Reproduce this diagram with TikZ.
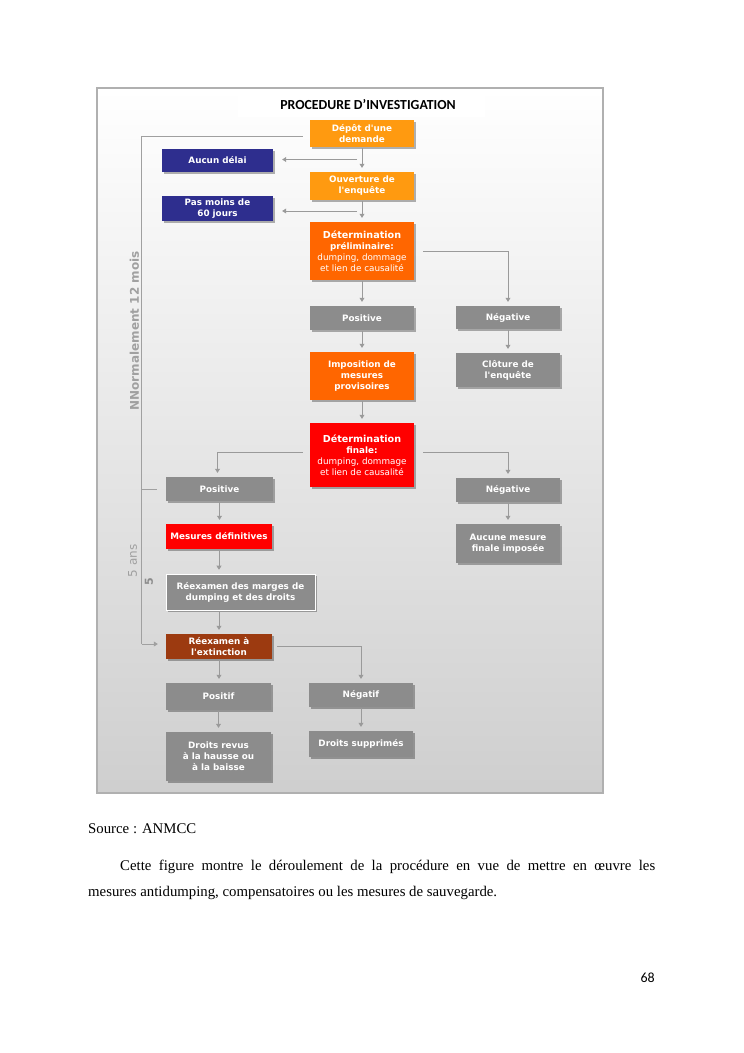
\documentclass[tikz,border=0pt]{standalone}
\usepackage{fontspec}
\setmainfont{Liberation Serif}
\newfontfamily\vfont{DejaVu Sans}
\newfontfamily\cfont{Carlito}
\usetikzlibrary{arrows.meta,shadows,calc}
\definecolor{lorange}{HTML}{FF9A10}
\definecolor{dorange}{HTML}{FF6600}
\definecolor{bred}{HTML}{FF0000}
\definecolor{navy}{HTML}{2E2E8E}
\definecolor{bgray}{HTML}{8C8C8C}
\definecolor{brownb}{HTML}{9C3A10}
\definecolor{cgray}{HTML}{9A9A9A}
\definecolor{lgray}{HTML}{A0A0A0}
\definecolor{framegray}{HTML}{B0B0B0}
\newcommand{\bxfont}{\vfont\bfseries\fontsize{8.8}{11}\selectfont}
\tikzset{
  bx/.style={rectangle, inner sep=1pt, align=center, text=white, font=\bxfont,
    drop shadow={shadow xshift=1.8pt, shadow yshift=-1.8pt, fill=black, opacity=0.3}},
  conn/.style={draw=cgray, line width=0.7pt},
  arr/.style={conn, -{Triangle[length=4pt,width=5pt]}, shorten >=4pt, shorten <=1pt},
  bline/.style={draw=lgray, line width=0.8pt},
  lbl/.style={text=lgray, inner sep=0pt},
  bodytext/.style={anchor=base west, inner sep=0pt, font=\fontsize{14.8}{17}\selectfont},
}
\begin{document}
\begin{tikzpicture}[x=1pt,y=-1pt]
\useasboundingbox (0,0) rectangle (744,1053);
\fill[white] (0,0) rectangle (744,1053);
% frame with gradient
\shade[top color=white, bottom color=gray!38] (97,88) rectangle (603,793);
\draw[draw=framegray, line width=1.2pt] (97,88) rectangle (603,793);
\fill[white] (238,92) rectangle (485,117);
\node[font=\cfont\bfseries\fontsize{13.8}{16}\selectfont, inner sep=0pt] (title) at (368,104.5) {PROCEDURE D’INVESTIGATION};

% boxes
\node[bx, fill=lorange, minimum width=104, minimum height=27] (depot) at (362,133.5) {Dépôt d'une\\demande};
\node[bx, fill=navy, minimum width=111, minimum height=23] (aucun) at (217.5,160.5) {Aucun délai};
\node[bx, fill=lorange, minimum width=104, minimum height=28] (ouverture) at (362,186) {Ouverture de\\l'enquête};
\node[bx, fill=navy, minimum width=111, minimum height=25] (pasmoins) at (217.5,208.5) {Pas moins de\\60 jours};
\node[bx, fill=dorange, minimum width=104, minimum height=58] (detprelim) at (362,251) {{\fontsize{9.6}{11.5}\selectfont Détermination}\\préliminaire:\\{\mdseries dumping, dommage}\\{\mdseries et lien de causalité}};
\node[bx, fill=bgray, minimum width=104, minimum height=24] (pos1) at (362,318) {Positive};
\node[bx, fill=bgray, minimum width=104, minimum height=23] (neg1) at (508,317.5) {Négative};
\node[bx, fill=dorange, minimum width=104, minimum height=48] (imposition) at (362,376) {Imposition de\\mesures\\provisoires};
\node[bx, fill=bgray, minimum width=104, minimum height=34] (cloture) at (508,370) {Clôture de\\l'enquête};
\node[bx, fill=bred, minimum width=104, minimum height=64] (detfinale) at (362,455) {{\fontsize{9.6}{11.5}\selectfont Détermination}\\finale:\\{\mdseries dumping, dommage}\\{\mdseries et lien de causalité}};
\node[bx, fill=bgray, minimum width=107, minimum height=24] (pos2) at (219.5,489) {Positive};
\node[bx, fill=bgray, minimum width=104, minimum height=24] (neg2) at (508,490) {Négative};
\node[bx, fill=bred, minimum width=106, minimum height=25] (mesdef) at (219,536.5) {Mesures définitives};
\node[bx, fill=bgray, minimum width=104, minimum height=39] (aucunemes) at (508,543.5) {Aucune mesure\\finale imposée};
\node[bx, fill=bgray, draw=white, line width=0.6pt, minimum width=149, minimum height=36] (reexmarges) at (240.5,592) {Réexamen des marges de\\dumping et des droits};
\node[bx, fill=brownb, minimum width=106, minimum height=25] (reexext) at (219,646.5) {Réexamen à\\l'extinction};
\node[bx, fill=bgray, minimum width=105, minimum height=27] (positif) at (218.5,696.5) {Positif};
\node[bx, fill=bgray, minimum width=104, minimum height=24] (negatif) at (361,695) {Négatif};
\node[bx, fill=bgray, minimum width=105, minimum height=49] (droitsrevus) at (218.5,756.5) {Droits revus\\à la hausse ou\\à la baisse};
\node[bx, fill=bgray, minimum width=104, minimum height=26] (droitssup) at (361,744) {Droits supprimés};

% vertical arrows
\draw[arr] (depot.south) -- (depot.south |- ouverture.north);
\draw[arr] (ouverture.south) -- (ouverture.south |- detprelim.north);
\draw[arr] (detprelim.south) -- (detprelim.south |- pos1.north);
\draw[arr] (pos1.south) -- (pos1.south |- imposition.north);
\draw[arr] (imposition.south) -- (imposition.south |- detfinale.north);
\draw[arr] (neg1.south) -- (neg1.south |- cloture.north);
\draw[arr] (neg2.south) -- (neg2.south |- aucunemes.north);
\draw[arr] (pos2.south) -- (pos2.south |- mesdef.north);
\draw[arr] (mesdef.south) -- (mesdef.south |- reexmarges.north);
\draw[arr] (mesdef.south |- reexmarges.south) -- (mesdef.south |- reexext.north);
\draw[arr] (reexext.south) -- (reexext.south |- positif.north);
\draw[arr] (positif.south) -- (positif.south |- droitsrevus.north);
\draw[arr] (negatif.south) -- (negatif.south |- droitssup.north);

% side branches
\coordinate (b1) at ($(depot.south)!0.5!(ouverture.north)$);
\coordinate (b2) at ($(ouverture.south)!0.5!(detprelim.north)$);
\draw[arr, shorten <=5pt, shorten >=9pt] (b1) -- (b1 -| aucun.east);
\draw[arr, shorten <=5pt, shorten >=9pt] (b2) -- (b2 -| pasmoins.east);
\draw[arr, shorten <=9pt] (detprelim.east) -| (neg1.north);
\draw[arr, shorten <=7pt] ([yshift=3pt]detfinale.west) -| ([xshift=-2pt]pos2.north);
\draw[arr, shorten <=9pt] ([yshift=3pt]detfinale.east) -| (neg2.north);
\draw[arr, shorten <=5pt] (reexext.east) -| (negatif.north);

% left bracket
\coordinate (bl1) at (141.7,136.7);
\coordinate (bl2) at (141.7,644);
\draw[bline, shorten <=7pt] (depot.west |- bl1) -- (bl1) -- (bl2);
\draw[bline, -{Triangle[length=4pt,width=5pt]}, shorten >=8pt] (bl2) -- (reexext.west |- bl2);
\draw[bline, shorten >=9pt] (bl1 |- pos2.west) -- (pos2.west);
\node[lbl, rotate=90, font=\vfont\bfseries\fontsize{12}{14}\selectfont] (l12) at (134.5,331) {NNormalement 12 mois};
\node[lbl, rotate=90, font=\vfont\fontsize{12}{14}\selectfont] (l5) at (132.5,561) {5 ans};
\node[lbl, rotate=90, text=bgray, font=\vfont\bfseries\fontsize{11}{13}\selectfont] (l5b) at (149,582) {5};

% text below
\node[bodytext] (src) at (88,833) {Source : ANMCC};
\node[bodytext] (p1) at (120,870) {\makebox[535pt][s]{Cette figure montre le déroulement de la procédure en vue de mettre en œuvre les}};
\node[bodytext] (p2) at (88,896) {mesures antidumping, compensatoires ou les mesures de sauvegarde.};
\node[anchor=base east, inner sep=0pt, font=\cfont\fontsize{14}{16}\selectfont] (pg) at (655,982) {68};
\end{tikzpicture}
\end{document}
